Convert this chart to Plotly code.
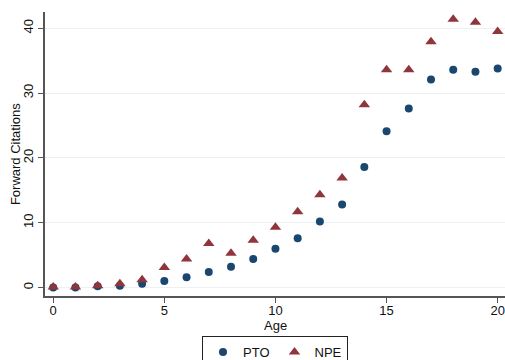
import plotly.graph_objects as go

# Citation age (years since grant)
age = list(range(0, 21))

# Mean forward citations by age
pto = [0.0, 0.0, 0.2, 0.3, 0.6, 1.0, 1.6, 2.4, 3.2, 4.4, 6.0, 7.6, 10.2, 12.8,
       18.6, 24.1, 27.6, 32.1, 33.6, 33.3, 33.8]
npe = [0.1, 0.1, 0.3, 0.6, 1.2, 3.1, 4.4, 6.8, 5.3, 7.3, 9.3, 11.7, 14.3, 16.9,
       28.2, 33.6, 33.6, 37.9, 41.4, 40.9, 39.5]

x_ticks = [0, 5, 10, 15, 20]
y_ticks = [0, 10, 20, 30, 40]

navy = "#1a476f"
maroon = "#90353b"

fig = go.Figure()
fig.add_trace(go.Scatter(x=age, y=pto, mode="markers", name="PTO",
                         marker=dict(symbol="circle", size=8, color=navy)))
fig.add_trace(go.Scatter(x=age, y=npe, mode="markers", name="NPE",
                         marker=dict(symbol="triangle-up", size=10, color=maroon)))

axis_font = dict(family="Liberation Sans, Arial, sans-serif", size=13, color="#111")

fig.update_layout(
    width=505, height=360,
    margin=dict(l=45, r=0, t=12, b=64, autoexpand=False),
    paper_bgcolor="white", plot_bgcolor="white",
    font=axis_font,
    showlegend=True,
    legend=dict(orientation="h", x=0.5, xanchor="center",
                yref="container", y=24 / 360, yanchor="top",
                bordercolor="#222", borderwidth=1, font=axis_font,
                itemwidth=30, tracegroupgap=0),
    xaxis=dict(range=[-0.37, 20.33], tickvals=x_ticks, showgrid=False, zeroline=False,
               showline=True, linecolor="#555", linewidth=1.5,
               ticks="outside", ticklen=5, tickcolor="#555", ticklabelstandoff=-3,
               tickfont=axis_font),
    yaxis=dict(range=[-1.3, 42.5], tickvals=y_ticks, showgrid=True, gridcolor="#eaf0f3",
               gridwidth=1, zeroline=False,
               showline=True, linecolor="#555", linewidth=1.5,
               ticks="outside", ticklen=5, tickcolor="#555", tickangle=-90,
               tickfont=axis_font),
    annotations=[
        dict(text="Age", xref="paper", yref="paper", x=0.5, y=-0.103,
             xanchor="center", yanchor="middle", showarrow=False, font=axis_font),
        dict(text="Forward Citations", xref="paper", yref="paper", x=-0.065, y=0.5,
             xanchor="center", yanchor="middle", textangle=-90, showarrow=False,
             font=axis_font),
    ],
)

fig.write_html("out.html")
